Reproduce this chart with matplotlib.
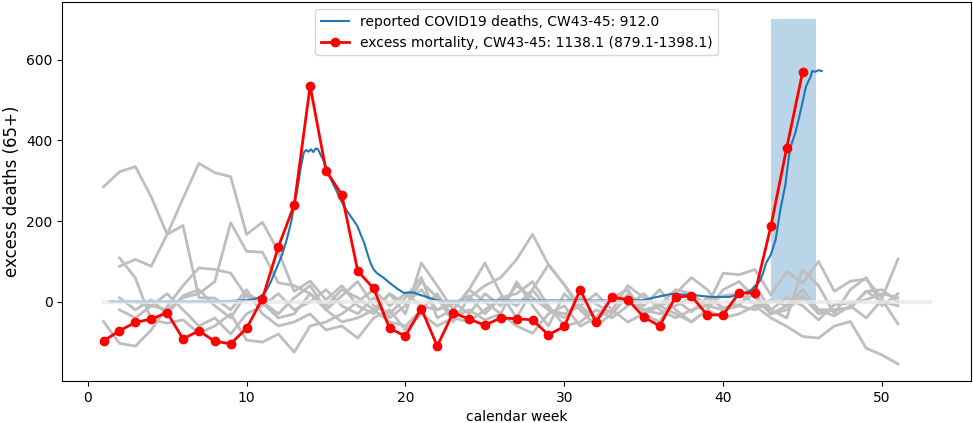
import matplotlib
matplotlib.use("Agg")
import matplotlib.pyplot as plt
import numpy as np

# excess mortality (65+) of this season, weekly
excess_weeks = list(range(1, 46))
excess_vals = [-97, -72, -51, -43, -27, -92, -72, -98, -104, -66,
               8, 136, 240, 535, 325, 265, 76, 33, -66, -85,
               -17, -110, -27, -43, -58, -40, -42, -45, -82, -61,
               30, -51, 12, 5, -38, -60, 12, 14, -33, -32,
               22, 22, 187, 382, 569]

# reported COVID19 deaths (rolling, fractional calendar weeks)
covid_weeks = [1.4, 2, 3, 4, 5, 6, 7, 8, 9, 9.5, 10, 10.3, 10.6, 10.9, 11.2,
               11.5, 11.8, 12.2, 12.5, 12.8, 13.0, 13.2, 13.4, 13.6, 13.75,
               13.9, 14.05, 14.2, 14.35, 14.5, 14.65, 14.8, 15.0, 15.3, 15.6,
               15.9, 16.2, 16.55, 16.97, 17.2, 17.4, 17.6, 17.8, 18.0, 18.2,
               18.6, 19.06, 19.5, 19.9, 20.2, 20.5, 20.9, 21.1, 21.4, 21.7,
               22.0, 22.3, 23, 25, 27, 29, 31, 33, 35, 35.6, 36.2, 36.8, 37.4,
               38.1, 38.7, 39.3, 40.0, 40.4, 40.8, 41.1, 41.4, 41.8, 42.0,
               42.3, 42.5, 42.7, 43.0, 43.3, 43.6, 43.9, 44.2, 44.55, 44.9,
               45.2, 45.4, 45.5, 45.6, 45.8, 46.0, 46.2]
covid_vals = [1, 1, 1, 1, 1, 1, 1, 1, 2, 3, 4, 5, 8, 13, 25,
              47, 75, 113, 150, 196, 240, 279, 330, 370, 376,
              372, 378, 371, 380, 378, 365, 354, 335, 304, 280,
              254, 232, 212, 188, 165, 146, 120, 96, 80, 71,
              60, 45, 32, 22, 23, 23, 17, 15, 11, 7,
              4, 2, 2, 3, 3, 3, 3, 3, 4, 10, 15, 20, 18,
              17, 14, 12, 12, 12, 16, 18, 22, 30, 38,
              51, 70, 96, 117, 154, 229, 287, 379, 420, 478,
              532, 550, 557, 572, 570, 574, 572]

# previous seasons (start week, weekly values)
prev_seasons = [
    (1, [285, 322, 335, 260, 167, 256, 343, 320, 310, 167, 197, 125, 26, 51, 5,
         40, -10, -30, 20, -5, 30, -20, -5, 15, -30, 10, -10, 30, -20, -40,
         10, -5, -30, 15, -20, -10, 5, -25, 10, -15, -5, 20, -30, -10, 30,
         -20, -35, -10, -40, 5, -55]),
    (2, [88, 105, 88, 167, 189, 10, 9, -20, 30, -30, -60, -50, -30, -70,
         -60, -90, -40, -20, -70, -30, -60, -40, -20, -45, -30, -60, -78, -30,
         -10, -60, -40, -20, -50, -30, -10, -30, -50, -20, -40, -30, -10, -40,
         -61, -86, -90, -60, -49, -115, -132, -154]),
    (2, [109, 59, -45, -53, -45, -78, -60, -30, -95, -100, -80, -125, -60,
         -50, -30, 0, 30, -10, 20, -10, -20, 0, -30, 20, -10, 40, 10, -20,
         -30, -10, -40, 10, 0, -20, -30, -10, 10, -5, 15, 20, -5, -20, 10,
         -10, -45, -7, -3, 5, 20, 10]),
    (1, [-49, -103, -110, -70, -12, 40, 84, 80, 71, 13, -3, -40, -30, 20,
         -20, -50, -40, -20, -50, -60, -20, 20, -40, -50, -20, 10, 20, 50,
         -10, -60, -50, -20, -40, -10, 20, -20, -40, -20, -10, -20, -10, -20,
         5, -10, 13, -30, -20, -15, 26, 0, -10]),
    (3, [0, -10, -20, 10, 20, 50, 196, 125, 123, 47, 40, 20, -10, 30, 10,
         -20, 20, -30, 96, 40, -20, 30, 96, 20, -40, 30, 92, 42, -10, 20,
         -20, 40, 10, -10, 30, 20, -10, 71, 67, 80, 17, 75, 47, 100, 26,
         51, 56, 9, 106]),
    (2, [-20, -40, -10, 20, -20, -60, -40, -80, -30, -10, 20, -20, 0, 30,
         -10, -30, 10, -40, -10, 50, 10, -50, 10, 40, 60, 105, 167, 92, 42,
         -20, -60, -30, 20, -10, 30, -20, -50, -20, 30, 50, 10, -30, -20,
         13, -20, -20, -15, 26, 30, 0]),
    (2, [10, -20, 5, -30, 15, 30, -10, -40, 20, 0, -30, 10, 40, -20, 15,
         50, -10, -30, 10, 60, -40, -20, 30, 0, -30, 50, -10, -60, 20, -20,
         -40, 10, 30, -30, -50, 20, 60, 30, -20, -10, 40, -20, -40, 80, 40,
         -30, 30, 60, -10, 20]),
]

span_start, span_end, span_top = 43, 45.85, 700

fig, ax = plt.subplots(figsize=(9.73, 4.23), dpi=100)
fig.subplots_adjust(left=0.064, right=0.998, bottom=0.099, top=0.995)

for start, vals in prev_seasons:
    ax.plot(np.arange(start, start + len(vals)), vals, color='#bebebe', lw=2)

ax.fill_between([span_start, span_end], 0, span_top, color='C0', alpha=0.3, lw=0)

ax.plot(covid_weeks, covid_vals, color='C0', lw=1.5,
        label='reported COVID19 deaths, CW43-45: 912.0')
ax.plot([1, 53], [0, 0], color='#e8e8e8', alpha=0.75, lw=3)
ax.plot(excess_weeks, excess_vals, color='red', marker='o', lw=2, ms=6,
        label='excess mortality, CW43-45: 1138.1 (879.1-1398.1)')

ax.set_xlabel('calendar week')
ax.set_ylabel('excess deaths (65+)', fontsize=12)
ax.legend(loc='upper center')

plt.savefig('out.png')
